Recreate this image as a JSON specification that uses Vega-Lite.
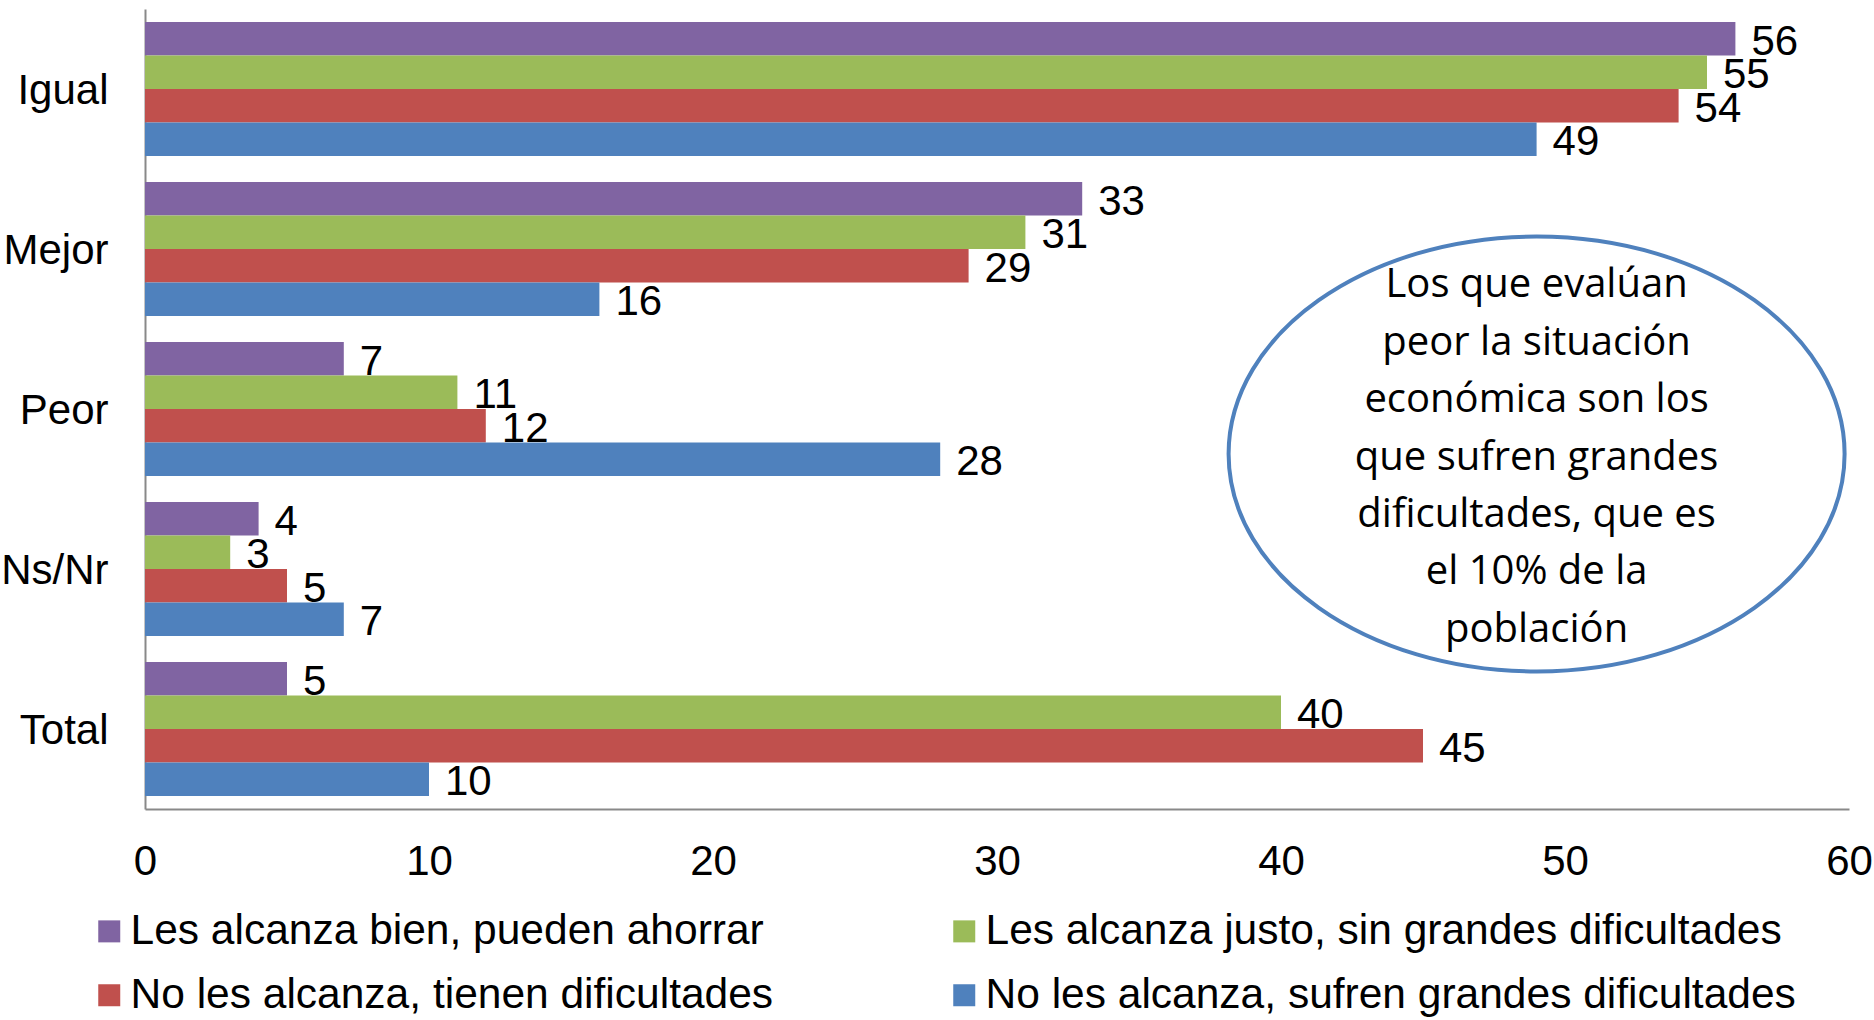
{
  "$schema": "https://vega.github.io/schema/vega-lite/v6.json",
  "width": 1704,
  "height": 800,
  "autosize": {"type": "none"},
  "padding": {"left": 145, "top": 9, "right": 25, "bottom": 211},
  "background": "white",
  "config": {
    "view": {"stroke": null},
    "font": "Liberation Sans"
  },
  "datasets": {
    "bars": [
      {"cat": "Igual", "serie": "Les alcanza bien, pueden ahorrar", "v": 56},
      {"cat": "Igual", "serie": "Les alcanza justo, sin grandes dificultades", "v": 55},
      {"cat": "Igual", "serie": "No les alcanza, tienen dificultades", "v": 54},
      {"cat": "Igual", "serie": "No les alcanza, sufren grandes dificultades", "v": 49},
      {"cat": "Mejor", "serie": "Les alcanza bien, pueden ahorrar", "v": 33},
      {"cat": "Mejor", "serie": "Les alcanza justo, sin grandes dificultades", "v": 31},
      {"cat": "Mejor", "serie": "No les alcanza, tienen dificultades", "v": 29},
      {"cat": "Mejor", "serie": "No les alcanza, sufren grandes dificultades", "v": 16},
      {"cat": "Peor", "serie": "Les alcanza bien, pueden ahorrar", "v": 7},
      {"cat": "Peor", "serie": "Les alcanza justo, sin grandes dificultades", "v": 11},
      {"cat": "Peor", "serie": "No les alcanza, tienen dificultades", "v": 12},
      {"cat": "Peor", "serie": "No les alcanza, sufren grandes dificultades", "v": 28},
      {"cat": "Ns/Nr", "serie": "Les alcanza bien, pueden ahorrar", "v": 4},
      {"cat": "Ns/Nr", "serie": "Les alcanza justo, sin grandes dificultades", "v": 3},
      {"cat": "Ns/Nr", "serie": "No les alcanza, tienen dificultades", "v": 5},
      {"cat": "Ns/Nr", "serie": "No les alcanza, sufren grandes dificultades", "v": 7},
      {"cat": "Total", "serie": "Les alcanza bien, pueden ahorrar", "v": 5},
      {"cat": "Total", "serie": "Les alcanza justo, sin grandes dificultades", "v": 40},
      {"cat": "Total", "serie": "No les alcanza, tienen dificultades", "v": 45},
      {"cat": "Total", "serie": "No les alcanza, sufren grandes dificultades", "v": 10}
    ],
    "note": [
      {"nx": 49, "ny": 355, "ty": 523.6, "label": "Los que evalúan|peor la situación|económica son los|que sufren grandes|dificultades, que es|el 10% de la|población"}
    ]
  },
  "layer": [
    {
      "data": {"name": "bars"},
      "encoding": {
        "y": {
          "field": "cat", "type": "nominal",
          "sort": ["Igual", "Mejor", "Peor", "Ns/Nr", "Total"],
          "scale": {"paddingInner": 0.1625, "paddingOuter": 0.08125},
          "axis": {
            "title": null, "ticks": false, "domainColor": "#898989", "domainWidth": 2,
            "labelFont": "Liberation Sans", "labelFontSize": 42, "labelColor": "black",
            "labelPadding": 37, "labelOffset": 2
          }
        },
        "yOffset": {
          "field": "serie", "type": "nominal",
          "sort": ["Les alcanza bien, pueden ahorrar", "Les alcanza justo, sin grandes dificultades", "No les alcanza, tienen dificultades", "No les alcanza, sufren grandes dificultades"],
          "scale": {"paddingInner": 0, "paddingOuter": 0}
        },
        "x": {
          "field": "v", "type": "quantitative",
          "scale": {"domain": [0, 60], "nice": false},
          "axis": {
            "title": null, "values": [0, 10, 20, 30, 40, 50, 60], "grid": false, "ticks": false,
            "domainColor": "#898989", "domainWidth": 2,
            "labelFont": "Liberation Sans", "labelFontSize": 42, "labelColor": "black",
            "labelPadding": 32, "labelFlush": false
          }
        }
      },
      "layer": [
        {
          "mark": {"type": "bar"},
          "encoding": {
            "color": {
              "field": "serie", "type": "nominal",
              "scale": {
                "domain": ["Les alcanza bien, pueden ahorrar", "Les alcanza justo, sin grandes dificultades", "No les alcanza, tienen dificultades", "No les alcanza, sufren grandes dificultades"],
                "range": ["#8064A2", "#9BBB59", "#C0504D", "#4F81BD"]
              },
              "legend": {
                "title": null, "orient": "none", "legendX": -57, "legendY": 901,
                "direction": "horizontal",
                "columns": 2, "columnPadding": 169, "rowPadding": 21,
                "symbolType": "square", "symbolSize": 484, "symbolStrokeWidth": 0,
                "labelFont": "Liberation Sans", "labelFontSize": 42.5, "labelColor": "black",
                "labelOffset": 0, "labelLimit": 1000
              }
            }
          }
        },
        {
          "mark": {"type": "text", "align": "left", "baseline": "middle", "dx": 16, "dy": 3, "font": "Liberation Sans", "fontSize": 42, "color": "black"},
          "encoding": {"text": {"field": "v", "type": "quantitative"}}
        }
      ]
    },
    {
      "data": {"name": "note"},
      "layer": [
        {
          "mark": {
            "type": "point", "filled": false,
            "shape": "M -1 0 A 1 0.706 0 1 0 1 0 A 1 0.706 0 1 0 -1 0 Z",
            "size": 379456, "stroke": "#4F81BD", "strokeWidth": 4, "opacity": 1
          },
          "encoding": {
            "x": {"field": "nx", "type": "quantitative"},
            "y": {"field": "ny", "type": "quantitative", "scale": {"domain": [0, 800], "nice": false}, "axis": null}
          }
        },
        {
          "mark": {"type": "text", "align": "center", "baseline": "middle", "lineBreak": "|", "lineHeight": 57.4, "font": "Open Sans", "fontSize": 40, "color": "black"},
          "encoding": {
            "x": {"field": "nx", "type": "quantitative"},
            "y": {"field": "ty", "type": "quantitative"},
            "text": {"field": "label", "type": "nominal"}
          }
        }
      ]
    }
  ],
  "resolve": {"scale": {"y": "independent"}}
}
